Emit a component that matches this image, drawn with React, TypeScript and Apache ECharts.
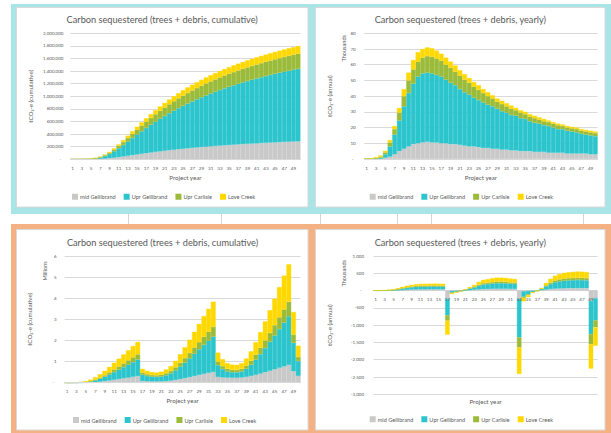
import React, { useEffect, useRef } from 'react';
import * as echarts from 'echarts';

const YEARS = ['1','2','3','4','5','6','7','8','9','10','11','12','13','14','15','16','17','18','19','20','21','22','23','24','25','26','27','28','29','30','31','32','33','34','35','36','37','38','39','40','41','42','43','44','45','46','47','48','49','50'];
const SERIES_NAMES = ['mid Gellibrand', 'Upr Gellibrand', 'Upr Carlisle', 'Love Creek'];
const COLORS = ['#c9c9c9', '#2cc5cd', '#9bbb3b', '#ffd800'];
const TITLE_CUM = 'Carbon sequestered (trees + debris, cumulative)';
const TITLE_YEAR = 'Carbon sequestered (trees + debris, yearly)';
const X_NAME = 'Project year';

// Top-left: cumulative (thousand tCO2-e)
const TL_MID = [0,0,0,0.2,1,2.5,5.5,10.5,17,25,34.5,44.5,55,66,76.5,87,97,107,116.5,126,135,143.5,151.5,159.5,167,174,181,187.5,194,200,206,211.5,217,222,227,232,236.5,241,245.5,249.5,253.5,257.5,261.5,265,268.5,272,275.5,279,282,285];
const TL_UPRG = [0,0,0.2,0.8,3,9.5,22,41.5,68.5,102.5,141,183.5,227.5,271.5,315.5,358.5,401,441.5,480.5,518,553.5,587.5,620.5,651.5,681.5,710.5,738,765,790.5,815,838.5,861,883,904,924.5,943.5,962,980,997,1014,1030,1045,1060,1074.5,1088.5,1102,1114.5,1126.5,1138.5,1150];
const TL_UPRC = [0,0,0.3,0.8,2,4.5,8,13,19.5,27.5,36.5,46,56,66.5,77,87.5,97.5,107,116.5,125,133.5,141.5,149,156,162.5,168.5,174,179,183.5,188,192,196,199.5,203,206,209,212,214.5,217,219.5,222,224.5,226.5,228.5,230.5,232.5,234.5,236.5,238.5,240.5];
const TL_LOVE = [0,0.4,1,2,3,4.5,6.5,9.5,14,19,25,31,36.5,42,47.5,52.5,57,61.5,65.5,69.5,73,76.5,79.5,82.5,85.5,88,90.5,92.5,94.5,96.5,98.5,100.5,102,103.5,105,106.5,108,109.5,111,112,113,114,115,116,117,118,119,120,121,122];

// Top-right: yearly (thousand tCO2-e)
const TR_MID = [0,0,0,0.2,0.8,1.5,3,5,6.5,8,9.5,10,10.5,11,10.5,10.5,10,10,9.5,9.5,9,8.5,8,8,7.5,7,7,6.5,6.5,6,6,5.5,5.5,5,5,5,4.5,4.5,4.5,4,4,4,4,3.5,3.5,3.5,3.5,3.5,3,3];
const TR_UPRG = [0,0,0.2,0.6,2.2,6.5,12.5,19.5,27,34,38.5,42.5,44,44,44,43,42.5,40.5,39,37.5,35.5,34,33,31,30,29,27.5,27,25.5,24.5,23.5,22.5,22,21,20.5,19,18.5,18,17,17,16,15,15,14.5,14,13.5,12.5,12,12,11.5];
const TR_UPRC = [0,0,0.3,0.5,1.2,2.5,3.5,5,6.5,8,9,9.5,10,10.5,10.5,10.5,10,9.5,9.5,8.5,8.5,8,7.5,7,6.5,6,5.5,5,4.5,4.5,4,4,3.5,3.5,3,3,3,2.5,2.5,2.5,2.5,2.5,2,2,2,2,2,2,2,2];
const TR_LOVE = [0,0.4,0.6,1,1,1.5,2,3,4.5,5,6,6,5.5,5.5,5.5,5,4.5,4.5,4,4,3.5,3.5,3,3,3,2.5,2.5,2,2,2,2,2,1.5,1.5,1.5,1.5,1.5,1.5,1.5,1,1,1,1,1,1,1,1,1,1,1];

// Bottom-left: cumulative (thousand tCO2-e, shown in millions)
const BL_MID = [0,0,0,1,4,11,25,45,73,104,137,171,206,242,278,314,74,64,59,57,61,73,95,129,171,216,264,315,366,416,463,509,269,249,239,235,234,244,272,316,371,432,497,565,634,704,774,842,542,322];
const BL_UPRG = [0,1,3,8,20,45,87,144,211,288,369,450,533,616,699,780,305,255,225,215,233,277,349,457,592,735,890,1053,1216,1375,1526,1673,558,398,298,260,255,290,385,531,716,922,1141,1369,1601,1838,2072,2302,1342,702];
const BL_UPRC = [0,0,1,3,7,15,28,46,68,93,119,145,172,199,226,252,97,87,79,76,81,93,112,141,176,214,255,298,341,383,423,461,171,141,121,113,112,122,148,189,241,299,360,424,489,555,620,684,394,194];
const BL_LOVE = [2,6,13,25,46,76,117,162,210,262,317,371,426,480,534,586,181,155,140,135,148,180,232,311,409,513,626,744,862,977,1086,1192,427,327,267,247,244,269,340,449,587,742,907,1077,1251,1428,1604,1777,1071,535];

// Bottom-right: yearly (thousand tCO2-e)
const BR_MID = [0,0,0,1,3,7,14,20,28,31,33,34,35,36,36,36,-240,-10,-5,-2,4,12,22,34,42,45,48,51,51,50,47,46,-240,-20,-10,-4,-1,10,28,44,55,61,65,68,69,70,70,68,-300,-220];
const BR_UPRG = [0,1,2,5,12,25,42,57,67,77,81,81,83,83,83,81,-475,-50,-30,-10,18,44,72,108,135,143,155,163,163,159,151,147,-1115,-160,-100,-38,-5,35,95,146,185,206,219,228,232,237,234,230,-960,-640];
const BR_UPRC = [0,0,1,2,4,8,13,18,22,25,26,26,27,27,27,26,-155,-10,-8,-3,5,12,19,29,35,38,41,43,43,42,40,38,-290,-30,-20,-8,-1,10,26,41,52,58,61,64,65,66,65,64,-290,-200];
const BR_LOVE = [2,4,7,12,21,30,41,45,48,52,55,54,55,54,54,52,-405,-26,-15,-5,13,32,52,79,98,104,113,118,118,115,109,106,-765,-100,-60,-20,-3,25,71,109,138,155,165,170,174,177,176,173,-706,-536];

const FONT = 'Lato';
const TXT = '#595959';
const GRIDC = '#d9d9d9';
const NB = '\u00a0\u00a0';

const PANELS = [
  {
    grid: { left: 70.4, top: 33.3, width: 230, height: 126 },
    min: 0, max: 2000, interval: 200,
    fmt: (v: number) => (v === 0 ? '-' + NB : (v * 1000).toLocaleString('en-US')),
    yName: 'tCO₂-e (cumulative)', yNameGap: 37, labelMargin: 7, xNameGap: 15,
    zeroAxis: false, xLabelMargin: 6,
    data: [TL_MID, TL_UPRG, TL_UPRC, TL_LOVE],
    title: { x: 162.2, y: 19, text: TITLE_CUM },
    legend: { left: 72, top: 193.7 },
    unit: null as null | { text: string; x: number; y: number },
  },
  {
    grid: { left: 364.3, top: 33.3, width: 233.3, height: 125.7 },
    min: 0, max: 80, interval: 10,
    fmt: (v: number) => (v === 0 ? '-' + NB : String(v)),
    yName: 'tCO₂-e (annual)', yNameGap: 31.5, labelMargin: 8.6, xNameGap: 15,
    zeroAxis: false, xLabelMargin: 6,
    data: [TR_MID, TR_UPRG, TR_UPRC, TR_LOVE],
    title: { x: 460.3, y: 19, text: TITLE_YEAR },
    legend: { left: 369.7, top: 193.7 },
    unit: { text: 'Thousands', x: 343.3, y: 48.3 },
  },
  {
    grid: { left: 64.6, top: 256, width: 236, height: 126.7 },
    min: 0, max: 6000, interval: 1000,
    fmt: (v: number) => (v === 0 ? '-' + NB : String(v / 1000)),
    yName: 'tCO₂-e (cumulative)', yNameGap: 32, labelMargin: 8, xNameGap: 15,
    zeroAxis: false, xLabelMargin: 6,
    data: [BL_MID, BL_UPRG, BL_UPRC, BL_LOVE],
    title: { x: 162.5, y: 242.3, text: TITLE_CUM },
    legend: { left: 73, top: 417 },
    unit: { text: 'Millions', x: 44.3, y: 271 },
  },
  {
    grid: { left: 373.4, top: 256, width: 224.3, height: 138.3 },
    min: -3000, max: 1000, interval: 500,
    fmt: (v: number) => (v === 0 ? '-' + NB : v.toLocaleString('en-US')),
    yName: 'tCO₂-e (annual)', yNameGap: 40.5, labelMargin: 9.4, xNameGap: 4,
    zeroAxis: true, xLabelMargin: -97.6,
    data: [BR_MID, BR_UPRG, BR_UPRC, BR_LOVE],
    title: { x: 460.3, y: 242.3, text: TITLE_YEAR },
    legend: { left: 369.7, top: 416.3 },
    unit: { text: 'Thousands', x: 343.3, y: 273.3 },
  },
];

export default function App() {
  const ref = useRef<HTMLDivElement>(null);
  useEffect(() => {
    document.body.style.margin = '0';
    if (!ref.current) return;
    const chart = echarts.init(ref.current, null, { renderer: 'svg', width: 611, height: 433 });

    const graphics: any[] = [
      { type: 'rect', z: -10, shape: { x: 11, y: 4, width: 600, height: 210 }, style: { fill: '#a9e5e7' }, silent: true },
      { type: 'rect', z: -10, shape: { x: 11, y: 224, width: 600, height: 209 }, style: { fill: '#f4b183' }, silent: true },
      { type: 'rect', z: -9, shape: { x: 16.5, y: 7.5, width: 291.5, height: 199.5 }, style: { fill: '#ffffff', stroke: '#d9d9d9', lineWidth: 1 }, silent: true },
      { type: 'rect', z: -9, shape: { x: 315.5, y: 7.5, width: 289.5, height: 199.5 }, style: { fill: '#ffffff', stroke: '#d9d9d9', lineWidth: 1 }, silent: true },
      { type: 'rect', z: -9, shape: { x: 16.5, y: 229.5, width: 291.5, height: 200.5 }, style: { fill: '#ffffff', stroke: '#d9d9d9', lineWidth: 1 }, silent: true },
      { type: 'rect', z: -9, shape: { x: 315.5, y: 229.5, width: 289.5, height: 200.5 }, style: { fill: '#ffffff', stroke: '#d9d9d9', lineWidth: 1 }, silent: true },
    ];
    [128.5, 221.5, 320.5, 397.5, 431.5, 583.5].forEach((x) => {
      graphics.push({ type: 'line', z: -9, shape: { x1: x, y1: 214, x2: x, y2: 224 }, style: { stroke: '#d4d4d4', lineWidth: 1 }, silent: true });
    });

    const grid: any[] = [];
    const xAxis: any[] = [];
    const yAxis: any[] = [];
    const legend: any[] = [];
    const series: any[] = [];

    PANELS.forEach((p, i) => {
      grid.push({ ...p.grid, containLabel: false, outerBoundsMode: 'none' });
      xAxis.push({
        type: 'category', gridIndex: i, data: YEARS, z: 5,
        axisTick: { show: false },
        axisLine: p.zeroAxis
          ? { show: false, onZero: false }
          : { lineStyle: { color: GRIDC, width: 1 } },
        axisLabel: { interval: 1, fontSize: 4.6, color: TXT, margin: p.xLabelMargin, fontFamily: FONT },
        name: X_NAME, nameLocation: 'middle', nameGap: p.xNameGap, nameMoveOverlap: false,
        nameTextStyle: { fontSize: 6.2, color: TXT, fontFamily: FONT },
      });
      yAxis.push({
        type: 'value', gridIndex: i, min: p.min, max: p.max, interval: p.interval,
        axisLine: { show: false }, axisTick: { show: false },
        splitLine: { lineStyle: { color: GRIDC, width: 1 } },
        axisLabel: { fontSize: 4.5, color: TXT, margin: p.labelMargin, formatter: p.fmt, fontFamily: FONT },
        name: p.yName, nameLocation: 'middle', nameRotate: 90, nameGap: p.yNameGap,
        nameTextStyle: { fontSize: 6.2, color: TXT, fontFamily: FONT },
      });
      legend.push({
        left: p.legend.left, top: p.legend.top, orient: 'horizontal', padding: 0,
        data: SERIES_NAMES, icon: 'rect', itemWidth: 4, itemHeight: 4, itemGap: 8,
        selectedMode: false,
        textStyle: { fontSize: 5.6, color: TXT, fontFamily: FONT, padding: [0, 0, 0, -2] },
      });
      p.data.forEach((arr, k) => {
        series.push({
          type: 'bar', name: SERIES_NAMES[k], xAxisIndex: i, yAxisIndex: i,
          stack: 'stack' + i, data: arr, barCategoryGap: '0%',
          itemStyle: { color: COLORS[k], borderColor: COLORS[k], borderWidth: 0.4 },
          silent: true,
        });
      });
      graphics.push({
        type: 'text', z: 10, x: p.title.x, y: p.title.y, silent: true,
        style: { text: p.title.text, fontSize: 9.2, fill: TXT, fontFamily: FONT, textAlign: 'center', textVerticalAlign: 'middle' },
      });
      if (p.unit) {
        graphics.push({
          type: 'text', z: 10, x: p.unit.x, y: p.unit.y, rotation: Math.PI / 2, silent: true,
          style: { text: p.unit.text, fontSize: 5.6, fill: TXT, fontFamily: FONT, textAlign: 'center', textVerticalAlign: 'middle' },
        });
      }
    });

    chart.setOption({
      animation: false,
      backgroundColor: '#ffffff',
      textStyle: { fontFamily: FONT },
      graphic: { elements: graphics },
      grid, xAxis, yAxis, legend, series,
    });
    return () => chart.dispose();
  }, []);
  return <div ref={ref} style={{ width: 611, height: 433 }} />;
}
